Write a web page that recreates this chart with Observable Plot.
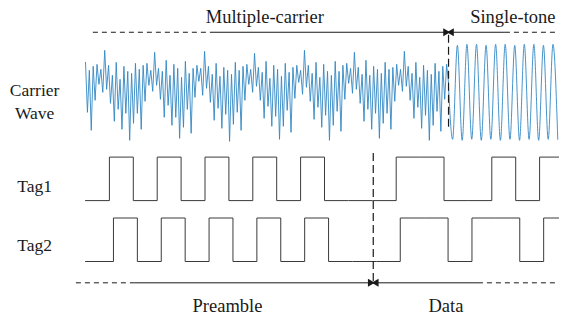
<!DOCTYPE html>
<html>
<head>
<meta charset="utf-8">
<script src="https://cdn.jsdelivr.net/npm/d3@7"></script>
<script src="https://cdn.jsdelivr.net/npm/@observablehq/plot@0.6"></script>
<style>
  html, body { margin: 0; padding: 0; background: #fff; }
  #chart { width: 561px; height: 320px; }
</style>
</head>
<body>
<div id="chart"></div>
<script>
// ---- data (time measured in tag bit periods) ----
// multi-carrier waveform samples (relative amplitude), equally spaced from t=0 to t=mcEnd
const multiCarrier = [
  33, -17, 25, -35, 29, -5, 31, 11, 26, 3,
  45, 6, 30, -8, 20, -26, 33, -14, 16, -34, 29, -18, 24, -45, 22, -28, 32, -18, 26, -34, 30, -6, 32, 10, 25, 4,
  43, 10, 27, -4, 24, -22, 35, -10, 20, -30, 31, -22, 27, -43, 18, -32, 34, -14, 22, -38, 27, -2, 30, 14, 27, 0,
  44, 7, 29, -7, 21, -25, 32, -13, 19, -33, 28, -19, 25, -46, 21, -29, 33, -17, 25, -35, 29, -5, 31, 11, 26, 3,
  42, 9, 28, -5, 23, -23, 34, -11, 17, -31, 30, -21, 26, -44, 19, -31, 32, -15, 23, -37, 28, -3, 30, 13, 25, 1,
  45, 8, 30, -6, 22, -24, 33, -12, 18, -32, 31, -20, 24, -45, 20, -30, 34, -16, 24, -36, 30, -4, 32, 12, 27, 2,
  43, 6, 28, -8, 21, -26, 35, -14, 20, -34, 29, -18, 26, -43, 22, -28, 33, -18, 26, -34, 28, -6, 31, 10, 26, 4,
  44, 9, 29, -5, 22, -23, 33, -12, 18, -33, 30, -20, 25, -45, 21, -30, 32, -16, 24, -36, 29, -4, 31, 12
];
const mcEnd = 15.19;           // switch from multiple-carrier to single-tone
// single-tone extrema (start value, then troughs/peaks every half period)
const singleToneStart = 8;
const singleTone = [-44, 50, -45, 51, -44, 51, -45, 50, -44, 51, -45, 51, -44, 50, -45, 51, -44, 51, -45, 50, -44, 51, -44];
const toneFirst = 15.36, toneHalfPeriod = 0.2;

const tag1Bits = [0,1,0,1,0,1,0,1,0,1,0,0,0,1,1,0,0,1,0,1];
const tag2Bits = [0,1,0,1,0,1,0,1,0,1,0,0,0,1,1,0,1,1,0,1];
const tag1Offset = 0, tag2Offset = 0.17;
const endTime = 19.8;
const preambleEnd = 12.04;

const topLabels = ["Multiple-carrier", "Single-tone"];
const bottomLabels = ["Preamble", "Data"];
const rowLabels = ["Carrier", "Wave", "Tag1", "Tag2"];

// ---- layout helpers (lane offsets on the y scale) ----
const carrierBase = 3.82, carrierGain = 1 / 43.5;
const tag1Base = 1.4, tag2Base = 0;
const topArrowY = 5.27, bottomArrowY = -0.49;

const mcStep = mcEnd / (multiCarrier.length - 1);
const mcData = multiCarrier.map((v, i) => ({t: i * mcStep, y: carrierBase + v * carrierGain}));
const toneData = [{t: mcEnd, y: carrierBase + singleToneStart * carrierGain}]
  .concat(singleTone.map((v, i) => ({t: toneFirst + i * toneHalfPeriod, y: carrierBase + v * carrierGain})));

function tagSteps(bits, offset, base) {
  const pts = bits.map((b, i) => ({t: i + offset, y: base + b}));
  pts[0].t = 0;
  pts.push({t: endTime, y: base + bits[bits.length - 1]});
  return pts;
}
const tag1Data = tagSteps(tag1Bits, tag1Offset, tag1Base);
const tag2Data = tagSteps(tag2Bits, tag2Offset, tag2Base);

const segs = [
  {x1: 0.33, x2: 5.23, y: topArrowY, dash: true},
  {x1: 5.23, x2: mcEnd, y: topArrowY, dash: false},
  {x1: mcEnd, x2: 17.57, y: topArrowY, dash: false},
  {x1: 17.57, x2: endTime, y: topArrowY, dash: true},
  {x1: -0.38, x2: 2.09, y: bottomArrowY, dash: true},
  {x1: 2.09, x2: preambleEnd, y: bottomArrowY, dash: false},
  {x1: preambleEnd, x2: 16.44, y: bottomArrowY, dash: false},
  {x1: 16.44, x2: 19.7, y: bottomArrowY, dash: true}
];
const heads = [
  {t: mcEnd, y: topArrowY},
  {t: preambleEnd, y: bottomArrowY}
];
const vlines = [
  {t: mcEnd, y1: 5.2, y2: 3.06},
  {t: preambleEnd, y1: 2.48, y2: bottomArrowY}
];

const headerData = [
  {t: 7.5, y: 5.63, s: topLabels[0]},
  {t: 17.88, y: 5.63, s: topLabels[1]},
  {t: 5.94, y: -1.02, s: bottomLabels[0]},
  {t: 15.08, y: -1.02, s: bottomLabels[1]}
];
const rowLabelData = [
  {t: -2.13, y: 3.93, s: rowLabels[0]},
  {t: -2.13, y: 3.40, s: rowLabels[1]},
  {t: -2.13, y: 1.72, s: rowLabels[2]},
  {t: -2.13, y: 0.37, s: rowLabels[3]}
];

const ink = "#1a1a1a";
const chart = Plot.plot({
  width: 561,
  height: 320,
  margin: 0,
  x: {domain: [0, 20], range: [85, 85 + 23.9 * 20], axis: null},
  y: {domain: [-1, 6], range: [304.5, 0], axis: null},
  style: {background: "#fff"},
  marks: [
    Plot.line(mcData, {x: "t", y: "y", stroke: "#3288c4", strokeWidth: 0.9}),
    Plot.line(toneData, {x: "t", y: "y", stroke: "#3288c4", strokeWidth: 0.9, curve: "monotone-x"}),
    Plot.line(tag1Data, {x: "t", y: "y", stroke: "#3a3a3a", strokeWidth: 1, curve: "step-after"}),
    Plot.line(tag2Data, {x: "t", y: "y", stroke: "#3a3a3a", strokeWidth: 1, curve: "step-after"}),
    Plot.ruleX(vlines, {x: "t", y1: "y1", y2: "y2", stroke: ink, strokeWidth: 1.2, strokeDasharray: "8,4"}),
    Plot.ruleY(segs.filter(d => d.dash), {y: "y", x1: "x1", x2: "x2", stroke: ink, strokeWidth: 1, strokeDasharray: "5,4"}),
    Plot.ruleY(segs.filter(d => !d.dash), {y: "y", x1: "x1", x2: "x2", stroke: ink, strokeWidth: 1}),
    Plot.dot(heads, {x: "t", y: "y", dx: -3, symbol: "triangle2", r: 3.8, rotate: 90, fill: ink, stroke: "none"}),
    Plot.dot(heads, {x: "t", y: "y", dx: 3, symbol: "triangle2", r: 3.8, rotate: -90, fill: ink, stroke: "none"}),
    Plot.text(headerData, {x: "t", y: "y", text: "s", fontSize: 18.5, fill: ink}),
    Plot.text(rowLabelData, {x: "t", y: "y", text: "s", fontSize: 17.5, fill: ink})
  ]
});
chart.querySelectorAll("text").forEach(t => { t.style.fontFamily = "'Liberation Serif', serif"; });
document.getElementById("chart").append(chart);
</script>
</body>
</html>
